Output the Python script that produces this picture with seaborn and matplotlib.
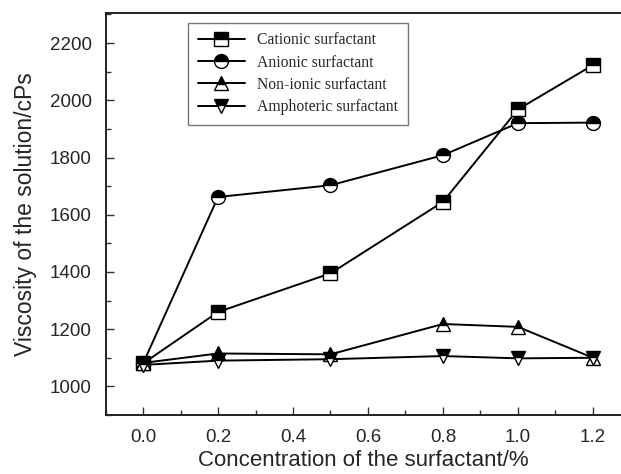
import numpy as np
import pandas as pd
import matplotlib
matplotlib.use('Agg')
import matplotlib.pyplot as plt
from matplotlib.ticker import MultipleLocator, FormatStrFormatter
import seaborn as sns

# Data
concentration = [0.0, 0.2, 0.5, 0.8, 1.0, 1.2]
cationic = [1080, 1260, 1395, 1645, 1968, 2123]
anionic = [1080, 1662, 1703, 1808, 1920, 1922]
nonionic = [1082, 1115, 1112, 1218, 1208, 1100]
amphoteric = [1075, 1090, 1095, 1106, 1098, 1100]
labels = ['Cationic surfactant', 'Anionic surfactant',
          'Non-ionic surfactant', 'Amphoteric surfactant']
markers = ['s', 'o', '^', 'v']

df = pd.DataFrame({
    'conc': concentration * 4,
    'visc': cationic + anionic + nonionic + amphoteric,
    'kind': np.repeat(labels, len(concentration)),
})

sns.set_style('ticks')
plt.rcParams['font.family'] = ['Liberation Sans', 'DejaVu Sans']
plt.rcParams['xtick.direction'] = 'in'
plt.rcParams['ytick.direction'] = 'in'

fig = plt.figure(figsize=(6.21, 4.74), dpi=100)
ax = fig.add_axes([0.170, 0.1245, 0.830, 0.848])

sns.lineplot(data=df, x='conc', y='visc', hue='kind', style='kind',
             hue_order=labels, style_order=labels,
             palette=['black'] * 4, markers=markers, dashes=False,
             fillstyle='top', markerfacecolor='black',
             markerfacecoloralt='white', markeredgecolor='black',
             markeredgewidth=1.0, markersize=10, linewidth=1.4,
             legend=False, ax=ax)

ax.set_xlim(-0.1, 1.275)
ax.set_ylim(900, 2305)
ax.xaxis.set_major_locator(MultipleLocator(0.2))
ax.xaxis.set_minor_locator(MultipleLocator(0.1))
ax.xaxis.set_major_formatter(FormatStrFormatter('%.1f'))
ax.yaxis.set_major_locator(MultipleLocator(200))
ax.yaxis.set_minor_locator(MultipleLocator(100))
ax.tick_params(which='major', length=6, width=1.0, labelsize=13.5, color='#333333')
ax.tick_params(which='minor', length=3.5, width=1.0, color='#333333')
ax.tick_params(axis='x', pad=10)
ax.tick_params(axis='y', pad=10)
ax.tick_params(top=False, right=False, which='both')

for side in ['left', 'bottom', 'top']:
    ax.spines[side].set_linewidth(1.4)
    ax.spines[side].set_color('#222222')
ax.spines['right'].set_visible(False)

ax.set_xlabel('Concentration of the surfactant/%', fontsize=16, labelpad=3)
ax.set_ylabel('Viscosity of the solution/cPs', fontsize=16.5, labelpad=9)

leg = ax.legend(handles=ax.get_lines()[:4], labels=labels,
                loc='upper left', bbox_to_anchor=(0.145, 0.995),
                prop={'family': 'Liberation Serif', 'size': 11.3},
                handlelength=3.0, labelspacing=0.4, borderpad=0.6,
                handletextpad=0.8, fancybox=False, framealpha=1)
leg.get_frame().set_edgecolor('#777777')
leg.get_frame().set_linewidth(1.0)

fig.savefig('out.png', dpi=100)
